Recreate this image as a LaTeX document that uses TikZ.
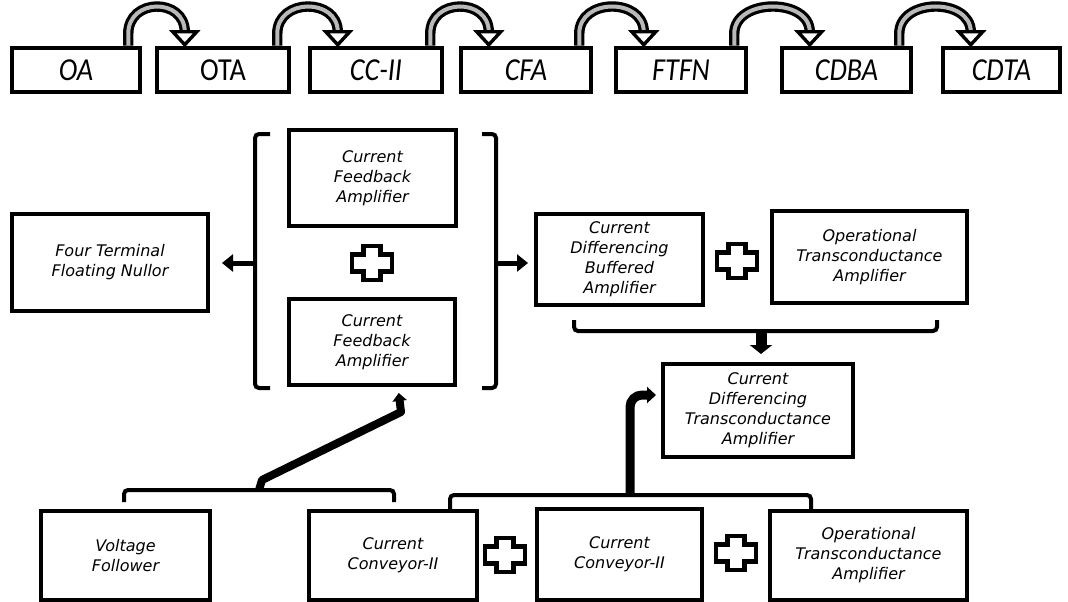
\documentclass[tikz,border=0pt]{standalone}
\usepackage{fontspec}
\setmainfont{DejaVu Sans}
\newfontfamily\topfont[FakeStretch=0.88]{Carlito}
\usetikzlibrary{arrows.meta,calc}
\tikzset{
  box/.style={draw, line width=4pt, fill=white, align=center, inner sep=0pt,
    font=\fontsize{16}{20}\selectfont\itshape},
  topbox/.style={draw, line width=4.5pt, fill=white, inner sep=0pt, minimum height=44pt,
    font=\topfont\fontsize{32}{34}\selectfont\itshape},
  bracket/.style={draw, line width=4pt, rounded corners=4pt},
  shaft/.style={line width=3.2pt, double=gray!55, double distance=4pt},
  hhead/.style={draw, line width=3.4pt, fill=white, line join=miter},
  fat/.style={line width=5pt, -{Triangle[width=17pt,length=11pt]}},
  plussign/.pic={\draw[line width=4.5pt, fill=white, line join=miter]
    (-8.5,-17) -- (8.5,-17) -- (8.5,-8.5) -- (20,-8.5) -- (20,8.5) -- (8.5,8.5) -- (8.5,17)
    -- (-8.5,17) -- (-8.5,8.5) -- (-20,8.5) -- (-20,-8.5) -- (-8.5,-8.5) -- cycle;}
}
\newcommand\hollowarrow[2]{%
  \draw[shaft] let \p1=($(#1.north east)+(-14,0)$), \p2=($(#2.north west)+(30,0)$) in
     (\x1,\y1) -- (\x1,\y1+12pt) .. controls (\x1,\y1+48pt) and (\x2,\y2+48pt) .. (\x2,\y2+14pt);
  \draw[hhead] let \p2=($(#2.north west)+(30,0)$) in
     (\x2,\y2+1pt) -- (\x2-12pt,\y2+14pt) -- (\x2+12pt,\y2+14pt) -- cycle;
}
\begin{document}
\begin{tikzpicture}[x=1pt,y=-1pt]
\useasboundingbox[fill=white] (0,0) rectangle (1068,602);

% top row
\node[topbox, minimum width=128pt] (tOA)   at (76,70)     {OA};
\node[topbox, minimum width=132pt, font=\topfont\fontsize{32}{34}\selectfont\upshape] (tOTA) at (223,70) {OTA};
\node[topbox, minimum width=132pt] (tCC)   at (376,70)    {CC-II};
\node[topbox, minimum width=130pt] (tCFA)  at (526,70)    {CFA};
\node[topbox, minimum width=130pt] (tFTFN) at (681,70)    {FTFN};
\node[topbox, minimum width=129pt] (tCDBA) at (846.5,70)  {CDBA};
\node[topbox, minimum width=117pt] (tCDTA) at (1001.5,70) {CDTA};

\hollowarrow{tOA}{tOTA}
\hollowarrow{tOTA}{tCC}
\hollowarrow{tCC}{tCFA}
\hollowarrow{tCFA}{tFTFN}
\hollowarrow{tFTFN}{tCDBA}
\hollowarrow{tCDBA}{tCDTA}

% middle
\node[box, minimum width=196pt, minimum height=97pt] (FTFN) at (110,262.5) {Four Terminal\\Floating Nullor};
\node[box, minimum width=167pt, minimum height=96pt] (CFAt) at (372.5,178) {Current\\Feedback\\Amplifier};
\node[box, minimum width=166pt, minimum height=86pt] (CFAb) at (372,342) {Current\\Feedback\\Amplifier};
\pic at (372,263) {plussign};
\draw[bracket] (270,134) -- (255,134) -- (255,388) -- (270,388);
\draw[bracket] (482,134) -- (496,134) -- (496,388) -- (482,388);
\coordinate (lbr) at (255,263);
\coordinate (rbr) at (496,263);

\node[box, minimum width=167pt, minimum height=91pt] (CDBA) at (619.5,259.5) {Current\\Differencing\\Buffered\\Amplifier};
\pic at (737,261) {plussign};
\node[box, minimum width=195pt, minimum height=92pt] (OTAm) at (869.5,257) {Operational\\Transconductance\\Amplifier};
\draw[bracket] (574,320) -- (574,331) -- (937,331) -- (937,320);
\coordinate (b3c) at (761,331);

\node[box, minimum width=190pt, minimum height=93pt] (CDTA) at (758,410.5) {Current\\Differencing\\Transconductance\\Amplifier};

\draw[fat, shorten >=12pt] (lbr) -- (lbr -| FTFN.east);
\draw[fat, shorten >=6pt] (rbr) -- (rbr -| CDBA.west);
\draw[line width=11pt, -{Triangle[width=22pt,length=9pt]}, shorten >=8pt] (b3c) -- (b3c |- CDTA.north);

% bottom
\node[box, minimum width=169pt, minimum height=89pt] (VF)  at (125.5,555.5) {Voltage\\Follower};
\node[box, minimum width=168pt, minimum height=89pt] (CC1) at (393,555.5) {Current\\Conveyor-II};
\pic at (505,555) {plussign};
\node[box, minimum width=165pt, minimum height=91pt] (CC2) at (619.5,554.5) {Current\\Conveyor-II};
\pic at (736,553) {plussign};
\node[box, minimum width=197pt, minimum height=89pt] (OTAb) at (868.5,555.5) {Operational\\Transconductance\\Amplifier};

\draw[bracket] (124,502) -- (124,490) -- (394,490) -- (394,502);
\draw[bracket] (450,511) -- (450,495) -- (811,495) -- (811,511);
\coordinate (b4c) at (259,490);
\coordinate (b5c) at (630,495);
\coordinate (cfabin) at ($(CFAb.south west)+(111,0)$);
\coordinate (cdtain) at ($(CDTA.north west)+(0,33)$);

\draw[line width=8pt, line join=round, -{Triangle[width=14pt,length=8pt]}, shorten >=6pt]
  (b4c) -- (262,480) -- (401,412) -- (cfabin);
\draw[line width=9pt, rounded corners=12pt, -{Triangle[width=16pt,length=9pt]}, shorten >=5pt]
  (b5c) |- (cdtain);
\end{tikzpicture}
\end{document}
